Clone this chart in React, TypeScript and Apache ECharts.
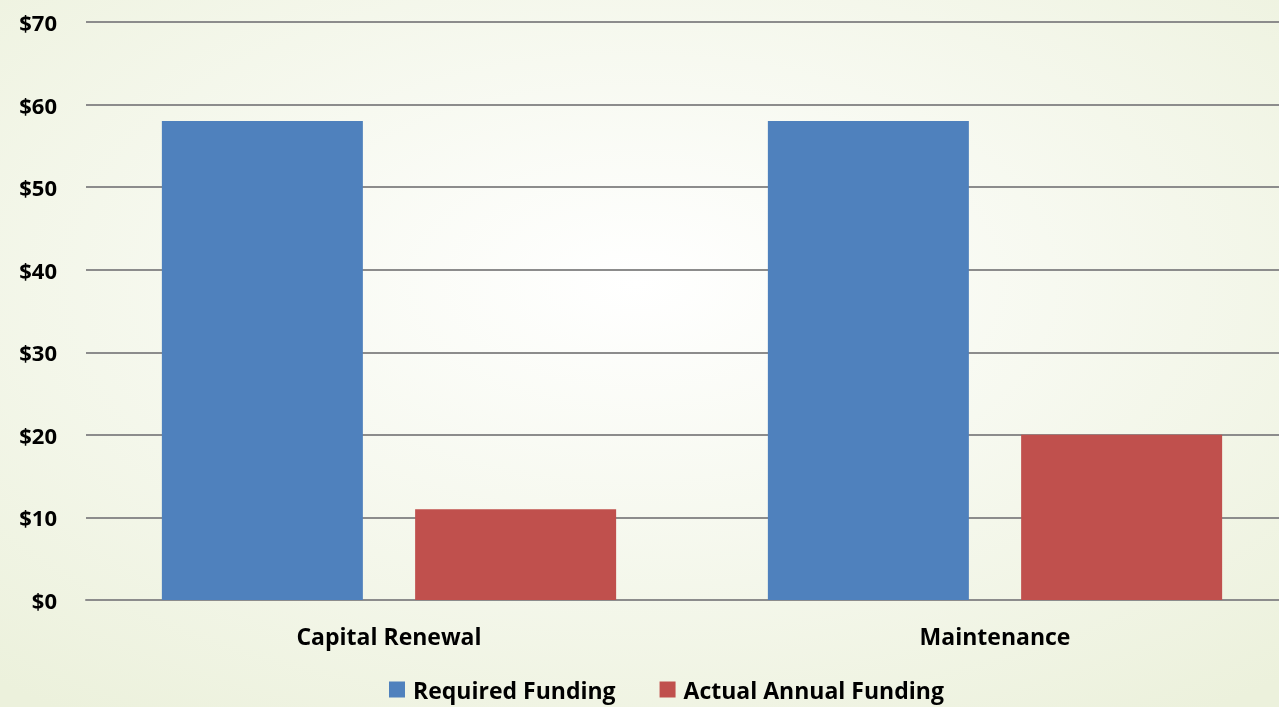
import React, { useEffect, useRef } from "react";
import * as echarts from "echarts";

const categories = ["Capital Renewal", "Maintenance"];
const requiredFunding = [58, 58];
const actualFunding = [11, 20];
const seriesNames = ["Required Funding", "Actual Annual Funding"];
const yTicks = [0, 10, 20, 30, 40, 50, 60, 70];

const FONT = "'Open Sans', 'Liberation Sans', sans-serif";

export default function App() {
  const ref = useRef<HTMLDivElement>(null);
  useEffect(() => {
    if (!ref.current) return;
    document.body.style.overflow = "hidden";
    const chart = echarts.init(ref.current, undefined, { renderer: "svg" });
    chart.setOption({
      animation: false,
      backgroundColor: {
        type: "radial",
        x: 0.49,
        y: 0.4,
        r: 0.75,
        colorStops: [
          { offset: 0, color: "#ffffff" },
          { offset: 1, color: "#ecf1dc" },
        ],
      },
      textStyle: { fontFamily: FONT },
      grid: { left: 86, right: 0, top: 22, bottom: 107, containLabel: false },
      legend: {
        top: 673,
        left: 384,
        itemWidth: 16,
        itemHeight: 16,
        itemGap: 44,
        icon: "rect",
        textStyle: {
          fontFamily: FONT,
          fontWeight: "bold",
          fontSize: 23,
          color: "#000",
          padding: [0, 0, 0, 3],
        },
        data: seriesNames,
      },
      xAxis: {
        type: "category",
        data: categories,
        axisLine: { show: true, lineStyle: { color: "#8c8c8c", width: 2 } },
        axisTick: { show: false },
        axisLabel: {
          margin: 24,
          fontFamily: FONT,
          fontWeight: "bold",
          fontSize: 23,
          color: "#000",
        },
      },
      yAxis: {
        type: "value",
        min: yTicks[0],
        max: yTicks[yTicks.length - 1],
        interval: 10,
        axisLine: { show: false },
        axisTick: { show: false },
        splitLine: { lineStyle: { color: "#8c8c8c", width: 2 } },
        axisLabel: {
          margin: 29,
          fontFamily: FONT,
          fontWeight: "bold",
          fontSize: 22,
          color: "#000",
          formatter: (v: number) => "$" + v,
        },
      },
      series: [
        {
          name: seriesNames[0],
          type: "bar",
          data: requiredFunding,
          barWidth: 201,
          barGap: "26%",
          itemStyle: { color: "#4F81BD" },
        },
        {
          name: seriesNames[1],
          type: "bar",
          data: actualFunding,
          barWidth: 201,
          itemStyle: { color: "#C0504D" },
        },
      ],
    });
    return () => chart.dispose();
  }, []);
  return (
    <div
      ref={ref}
      style={{ position: "fixed", left: 0, top: 0, width: 1298, height: 707 }}
    />
  );
}
